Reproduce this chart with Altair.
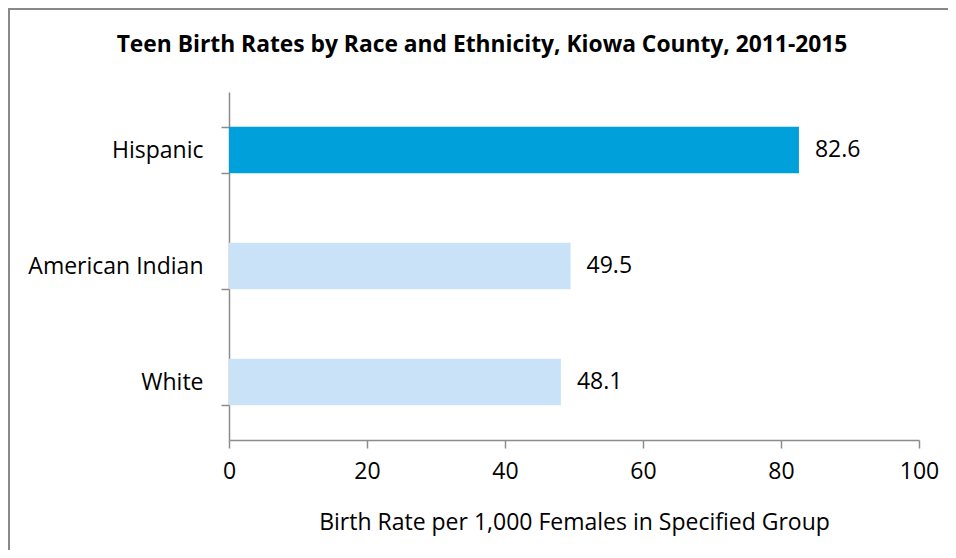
import altair as alt
import pandas as pd

groups = ["Hispanic", "American Indian", "White"]
rates = [82.6, 49.5, 48.1]
highlight = ["Hispanic"]
x_ticks = [0, 20, 40, 60, 80, 100]
title_text = "Teen Birth Rates by Race and Ethnicity, Kiowa County, 2011-2015"
x_title = "Birth Rate per 1,000 Females in Specified Group"

df = pd.DataFrame({
    "group": groups,
    "rate": rates,
    "label": [f"{r:.1f}" for r in rates],
    "hl": ["yes" if g in highlight else "no" for g in groups],
})

FONT = "Open Sans"
AXC = "#8c8c8c"
FS = 23

y_enc = alt.Y("group:N", sort=groups,
              scale=alt.Scale(paddingInner=0.6, paddingOuter=0.3),
              axis=alt.Axis(title=None, tickBand="extent", tickSize=8,
                            labelPadding=18, labelFontSize=FS, labelFont=FONT,
                            labelColor="black", domainColor=AXC, tickColor=AXC,
                            domainWidth=1.5, tickWidth=1.5, grid=False))
x_enc = alt.X("rate:Q", scale=alt.Scale(domain=[0, 100], nice=False),
              axis=alt.Axis(values=x_ticks, title=x_title, tickSize=8,
                            labelPadding=12, labelFontSize=FS, labelFont=FONT,
                            labelFlush=False, labelOverlap=False,
                            labelColor="black", titleFont=FONT, titleFontSize=FS,
                            titleFontWeight="normal", titleColor="black",
                            titlePadding=28, domainColor=AXC, tickColor=AXC,
                            domainWidth=1.5, tickWidth=1.5, grid=False))

base = alt.Chart(df)
bars = base.mark_bar().encode(
    x=x_enc, y=y_enc,
    color=alt.Color("hl:N", scale=alt.Scale(domain=["yes", "no"], range=["#00A0DA", "#C9E2F8"]), legend=None),
)
labels = base.mark_text(align="left", baseline="middle", dx=16, fontSize=FS, font=FONT, color="black").encode(
    x="rate:Q", y=alt.Y("group:N", sort=groups), text="label:N"
)
title = alt.Chart(pd.DataFrame({"t": [title_text]})).mark_text(
    fontSize=22.8, fontWeight="bold", font=FONT, color="black", align="center", baseline="middle"
).encode(x=alt.value(253), y=alt.value(-47), text="t:N")

border_left = alt.Chart(pd.DataFrame({"a": [0]})).mark_rule(color="#888888", strokeWidth=2).encode(
    x=alt.value(-220), y=alt.value(-84), y2=alt.value(460))
border_top = alt.Chart(pd.DataFrame({"a": [0]})).mark_rule(color="#888888", strokeWidth=2).encode(
    y=alt.value(-83), x=alt.value(-221), x2=alt.value(719))

chart = alt.layer(border_left, border_top, bars, labels, title).properties(
    width=690, height=348,
    autosize=alt.AutoSizeParams(type="none"),
    padding={"left": 221, "top": 84, "right": 29, "bottom": 110},
).configure_view(stroke=None)

chart.save("out.html", embed_options={"renderer": "svg", "actions": False})
